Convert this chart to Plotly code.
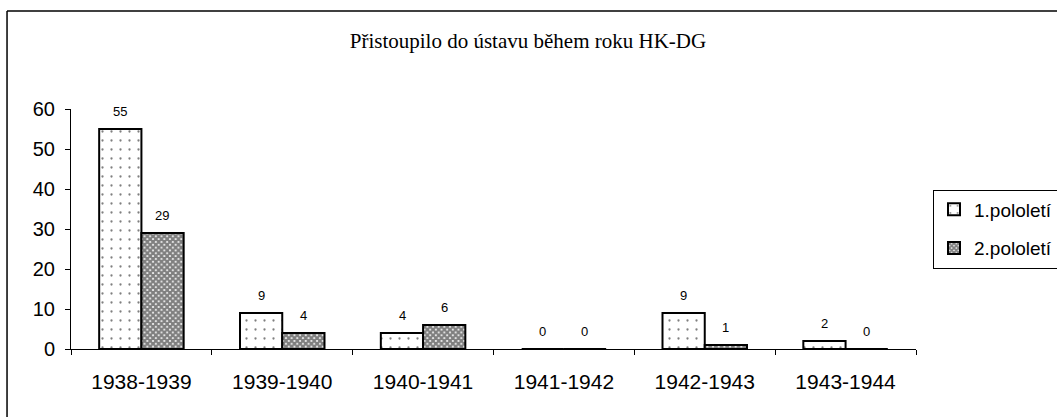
import plotly.graph_objects as go

categories = ["1938-1939", "1939-1940", "1940-1941", "1941-1942", "1942-1943", "1943-1944"]
first_half = [55, 9, 4, 0, 9, 2]
second_half = [29, 4, 6, 0, 1, 0]
series_names = ["1.pololetí", "2.pololetí"]
y_ticks = [0, 10, 20, 30, 40, 50, 60]
title_text = "Přistoupilo do ústavu během roku HK-DG"

fig = go.Figure()
fig.add_trace(go.Bar(
    x=categories, y=first_half, name=series_names[0], legendgroup="a",
    marker=dict(color="white", line=dict(color="black", width=2),
                pattern=dict(shape=".", fgcolor="black", bgcolor="white", size=9, solidity=0.05)),
))
fig.add_trace(go.Bar(
    x=categories, y=second_half, name=series_names[1], legendgroup="b",
    marker=dict(color="white", line=dict(color="black", width=2),
                pattern=dict(shape="x", fgcolor="black", bgcolor="white", size=4, solidity=0.8)),
))

# data labels placed over each bar of the grouped pair
for vals, shift in ((first_half, -21), (second_half, 21)):
    for cat, v in zip(categories, vals):
        fig.add_annotation(x=cat, y=v, text=str(v), showarrow=False, xshift=shift,
                           yanchor="bottom", yshift=8,
                           font=dict(family="Arial", size=13, color="black"))

fig.update_layout(
    width=1057, height=417,
    margin=dict(l=71, r=141, t=109, b=68, autoexpand=False),
    paper_bgcolor="white", plot_bgcolor="white",
    barmode="group", bargap=0.4, bargroupgap=0,
    title=dict(text=title_text, x=0.4995, xref="container", xanchor="center",
               y=1 - 41 / 417, yref="container", yanchor="middle",
               font=dict(family="Liberation Serif", size=21, color="black")),
    showlegend=True,
    legend=dict(x=1.0201, y=0.5, xanchor="left", yanchor="middle",
                bordercolor="black", borderwidth=1, bgcolor="white",
                font=dict(family="Arial", size=19, color="black"),
                tracegroupgap=11, itemwidth=30, traceorder="grouped"),
    font=dict(family="Arial", color="black"),
)
fig.update_yaxes(range=[0, 60], tickvals=y_ticks, showgrid=False, zeroline=False,
                 showline=True, linecolor="black", linewidth=1,
                 ticks="outside", ticklen=5, tickcolor="black", ticklabelstandoff=6,
                 tickfont=dict(family="Arial", size=20, color="black"), automargin=False)
fig.update_xaxes(showgrid=False, showline=True, linecolor="black", linewidth=1,
                 ticks="outside", ticklen=5, tickcolor="black", tickson="boundaries",
                 ticklabelstandoff=14,
                 tickfont=dict(family="Arial", size=21, color="black"), automargin=False)

# outer chart frame (left and top edges)
fig.add_shape(type="line", xref="paper", yref="paper", x0=-0.0757, x1=1.2, y0=1.408, y1=1.408,
              line=dict(color="black", width=1.5))
fig.add_shape(type="line", xref="paper", yref="paper", x0=-0.0757, x1=-0.0757, y0=-0.3, y1=1.408,
              line=dict(color="black", width=1.5))

fig.write_html("out.html", config={"displayModeBar": False},
               post_script="document.body.style.margin='0';document.body.style.overflow='hidden';")
